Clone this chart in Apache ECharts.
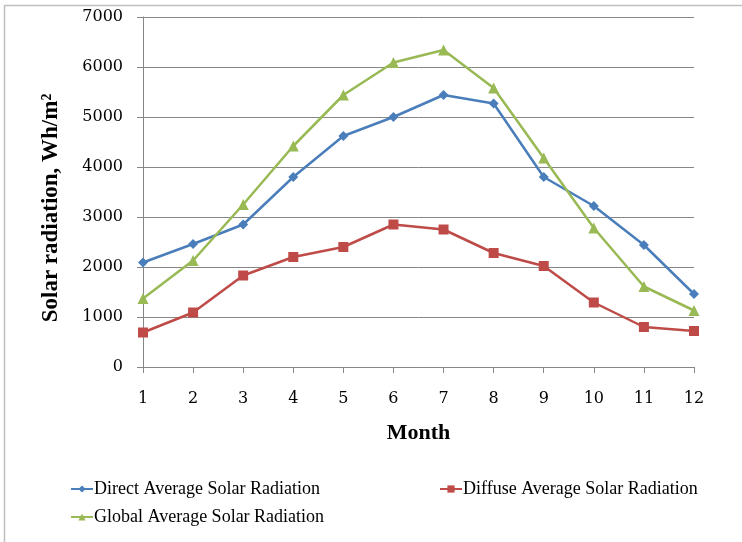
<!DOCTYPE html>
<html>
<head>
<meta charset="utf-8">
<script src="https://cdn.jsdelivr.net/npm/echarts@6/dist/echarts.min.js"></script>
<style>
  html, body { margin: 0; padding: 0; background: #ffffff; }
  #chart { width: 742px; height: 542px; }
</style>
</head>
<body>
<div id="chart"></div>
<script>
// Monthly average solar radiation (Wh/m²)
const months = ['1', '2', '3', '4', '5', '6', '7', '8', '9', '10', '11', '12'];
const directRadiation = [2090, 2460, 2850, 3800, 4620, 5000, 5440, 5270, 3800, 3220, 2440, 1460];
const diffuseRadiation = [690, 1090, 1830, 2200, 2400, 2850, 2750, 2280, 2020, 1290, 800, 720];
const globalRadiation = [1370, 2130, 3250, 4420, 5440, 6090, 6340, 5580, 4180, 2780, 1610, 1130];
const yTicks = [0, 1000, 2000, 3000, 4000, 5000, 6000, 7000];

const FONT = 'Liberation Serif';
const TICK_FONT = 'DejaVu Serif';
const gray = '#868686';

const chart = echarts.init(document.getElementById('chart'));

function legendAt(name, left, top) {
  return {
    data: [name],
    left: left,
    top: top,
    itemWidth: 22,
    itemHeight: 9,
    itemGap: 0,
    textStyle: { fontFamily: FONT, fontSize: 18, color: '#000', padding: [0, 0, 0, -4] }
  };
}

chart.setOption({
  animation: false,
  backgroundColor: '#ffffff',
  graphic: [
    {
      type: 'rect',
      shape: { x: 4.5, y: 5.5, width: 900, height: 700 },
      style: { fill: 'none', stroke: '#bfbfbf', lineWidth: 1.5 },
      silent: true
    },
    {
      type: 'text',
      x: 51,
      y: 208,
      rotation: Math.PI / 2,
      style: {
        text: 'Solar radiation, Wh/m²',
        fontFamily: FONT,
        fontSize: 23,
        fontWeight: 'bold',
        fill: '#000',
        align: 'center',
        verticalAlign: 'middle'
      },
      silent: true
    }
  ],
  legend: [
    legendAt('Direct Average Solar Radiation', 65, 475),
    legendAt('Diffuse Average Solar Radiation', 434, 475),
    legendAt('Global Average Solar Radiation', 65, 503)
  ],
  grid: { left: 143, right: 48, top: 17, bottom: 175 },
  xAxis: {
    type: 'category',
    data: months,
    boundaryGap: false,
    name: 'Month',
    nameLocation: 'middle',
    nameGap: 55,
    nameTextStyle: { fontFamily: FONT, fontSize: 22, fontWeight: 'bold', color: '#000' },
    axisLine: { lineStyle: { color: gray, width: 1 } },
    axisTick: { show: true, length: 6, lineStyle: { color: gray } },
    axisLabel: { fontFamily: TICK_FONT, fontSize: 16, color: '#000', margin: 24 },
    splitLine: { show: false }
  },
  yAxis: {
    type: 'value',
    min: 0,
    max: 7000,
    interval: 1000,
    axisLine: { show: true, lineStyle: { color: gray, width: 1 } },
    axisTick: { show: true, length: 6, lineStyle: { color: gray } },
    axisLabel: {
      fontFamily: TICK_FONT, fontSize: 16, color: '#000', margin: 20,
      formatter: v => (yTicks.includes(v) ? String(v) : '')
    },
    splitLine: { lineStyle: { color: gray, width: 1 } }
  },
  series: [
    {
      name: 'Direct Average Solar Radiation',
      type: 'line',
      data: directRadiation,
      symbol: 'diamond',
      symbolSize: 10,
      lineStyle: { color: '#4a7ebb', width: 2.5 },
      itemStyle: { color: '#4a7ebb' }
    },
    {
      name: 'Diffuse Average Solar Radiation',
      type: 'line',
      data: diffuseRadiation,
      symbol: 'rect',
      symbolSize: 10,
      lineStyle: { color: '#be4b48', width: 2.5 },
      itemStyle: { color: '#be4b48' }
    },
    {
      name: 'Global Average Solar Radiation',
      type: 'line',
      data: globalRadiation,
      symbol: 'triangle',
      symbolSize: 11,
      lineStyle: { color: '#98b954', width: 2.5 },
      itemStyle: { color: '#98b954' }
    }
  ]
});
</script>
</body>
</html>
